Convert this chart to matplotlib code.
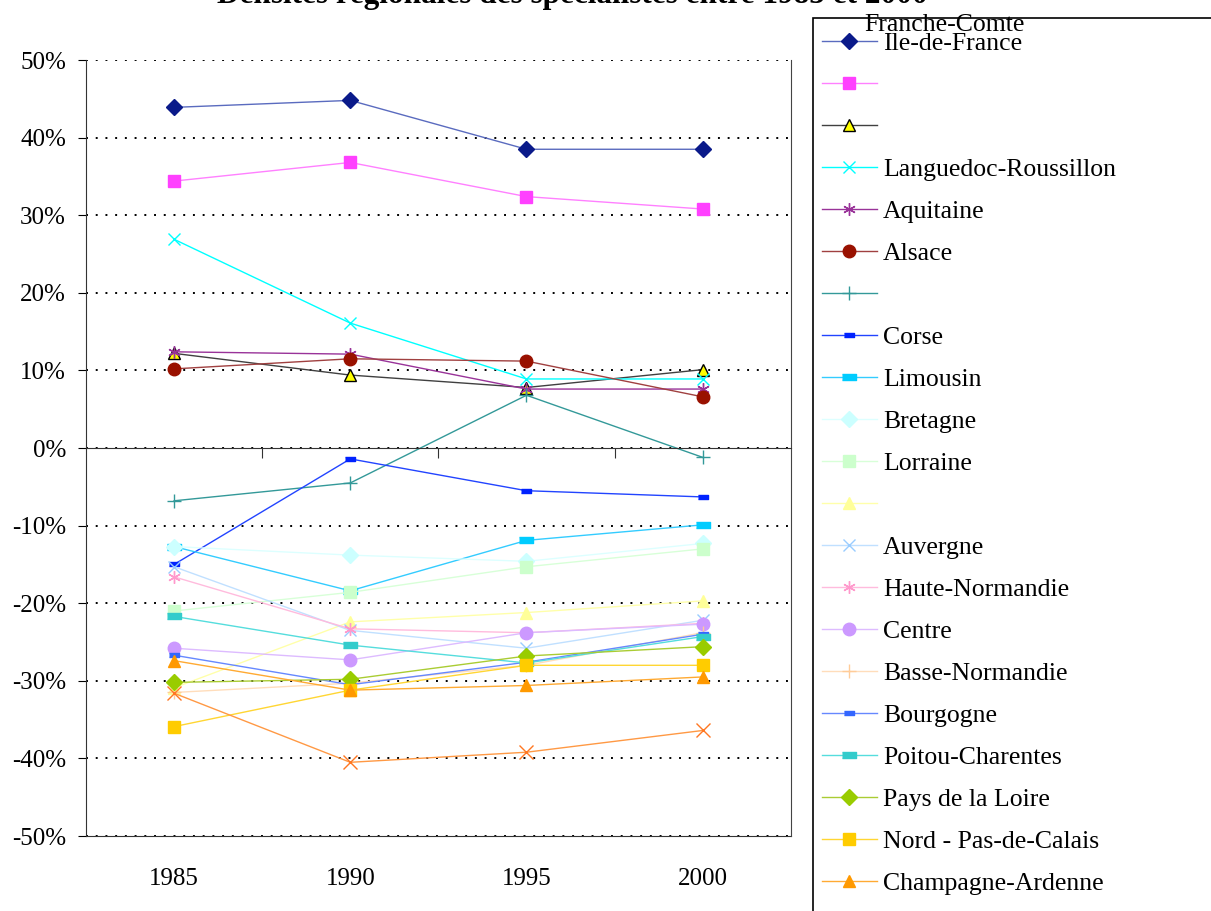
import matplotlib.pyplot as plt
from matplotlib.patches import Rectangle
from matplotlib.ticker import FuncFormatter

plt.rcParams['font.family'] = ['Liberation Serif', 'DejaVu Serif']

# years on the category axis
years = ['1985', '1990', '1995', '2000']

# values in %
ile_de_france = [43.9, 44.8, 38.5, 38.5]
paca = [34.4, 36.8, 32.4, 30.8]
midi_pyrenees = [12.2, 9.4, 7.8, 10.1]
languedoc = [26.9, 16.1, 8.9, 8.9]
aquitaine = [12.4, 12.1, 7.6, 7.6]
alsace = [10.2, 11.5, 11.2, 6.6]
rhone_alpes = [-6.8, -4.5, 6.8, -1.2]
corse = [-15.0, -1.4, -5.5, -6.3]
limousin = [-12.7, -18.4, -11.9, -9.9]
bretagne = [-12.7, -13.8, -14.6, -12.3]
lorraine = [-21.0, -18.6, -15.3, -13.0]
picardie = [-30.9, -22.4, -21.2, -19.7]
auvergne = [-15.3, -23.5, -25.8, -22.2]
haute_normandie = [-16.6, -23.3, -23.8, -22.6]
centre = [-25.8, -27.3, -23.8, -22.7]
basse_normandie = [-31.5, -30.3, -28.0, -23.8]
bourgogne = [-26.7, -30.5, -27.6, -24.0]
poitou = [-21.7, -25.4, -27.7, -24.3]
pays_loire = [-30.2, -29.8, -26.8, -25.6]
nord_pdc = [-35.9, -31.2, -28.0, -28.0]
champagne = [-27.4, -31.2, -30.6, -29.5]
franche_comte = [-31.6, -40.5, -39.2, -36.4]

# legend labels as shown (some are blank in the original)
labels = ['Ile-de-France', ' ', ' ', 'Languedoc-Roussillon', 'Aquitaine',
          'Alsace', ' ', 'Corse', 'Limousin', 'Bretagne', 'Lorraine', ' ',
          'Auvergne', 'Haute-Normandie', 'Centre', 'Basse-Normandie',
          'Bourgogne', 'Poitou-Charentes', 'Pays de la Loire',
          'Nord - Pas-de-Calais', 'Champagne-Ardenne']
series = [ile_de_france, paca, midi_pyrenees, languedoc, aquitaine, alsace,
          rhone_alpes, corse, limousin, bretagne, lorraine, picardie,
          auvergne, haute_normandie, centre, basse_normandie, bourgogne,
          poitou, pays_loire, nord_pdc, champagne]

bar = [(-1, -0.5), (1, -0.5), (1, 0.5), (-1, 0.5)]
star = (6, 2, 0)
# (line colour, marker, marker face, marker edge, marker size)
styles = [
    ('#5A6BBF', 'D', '#0A1A8A', '#0A1A8A', 8),
    ('#FF80FF', 's', '#FF40FF', '#FF40FF', 8),
    ('#404040', '^', '#FFFF00', '#000000', 9),
    ('#00FFFF', 'x', '#00FFFF', '#00FFFF', 9),
    ('#993399', star, '#993399', '#993399', 9),
    ('#A04040', 'o', '#991100', '#991100', 9),
    ('#339999', '+', '#339999', '#339999', 10),
    ('#2244FF', bar, '#0022FF', '#0022FF', 7),
    ('#33CCFF', bar, '#00CCFF', '#00CCFF', 10),
    ('#DDFFFF', 'D', '#CCFFFF', '#CCFFFF', 8),
    ('#D8FFD8', 's', '#CCFFCC', '#CCFFCC', 8),
    ('#FFFFAA', '^', '#FFFF99', '#FFFF99', 9),
    ('#C0E0FF', 'x', '#99CCFF', '#99CCFF', 9),
    ('#FFBBDD', star, '#FF99CC', '#FF99CC', 9),
    ('#DDBBFF', 'o', '#CC99FF', '#CC99FF', 9),
    ('#FFDDBB', '+', '#FFCC99', '#FFCC99', 10),
    ('#6688FF', bar, '#3366FF', '#3366FF', 7),
    ('#55DDDD', bar, '#33CCCC', '#33CCCC', 10),
    ('#AACC33', 'D', '#99CC00', '#99CC00', 8),
    ('#FFD633', 's', '#FFCC00', '#FFCC00', 8),
    ('#FFAA33', '^', '#FF9900', '#FF9900', 9),
]

fig = plt.figure(figsize=(12.11, 9.11), dpi=100)
ax = fig.add_axes([0.071, 0.0823, 0.582, 0.8518])

x = [1, 2, 3, 4]
handles = []
for vals, (lc, mk, mf, me, ms) in zip(series, styles):
    h, = ax.plot(x, vals, color=lc, lw=1, marker=mk, markerfacecolor=mf,
                 markeredgecolor=me, markersize=ms, markeredgewidth=1)
    handles.append(h)
ax.plot(x, franche_comte, color='#FF9944', lw=1, marker='x',
        markeredgecolor='#FF7722', markersize=10, markeredgewidth=1)

ax.set_xlim(0.5, 4.5)
ax.set_ylim(-50, 50)
ax.set_yticks(range(-50, 51, 10))
ax.yaxis.set_major_formatter(FuncFormatter(lambda v, p: '%d%%' % v))
ax.tick_params(axis='y', labelsize=18, length=5.8, direction='out', pad=8.5)
ax.grid(axis='y', linestyle=(0, (1, 4)), color='black', lw=1.4)
ax.set_axisbelow(True)

# category axis line crosses at 0 with marks between categories
ax.spines['bottom'].set_position(('data', 0))
ax.spines['bottom'].set_color('#333333')
ax.set_xticks([1.5, 2.5, 3.5])
ax.set_xticklabels([])
ax.tick_params(axis='x', length=7, direction='out', color='#333333')
ax.spines['top'].set_visible(False)
ax.spines['right'].set_color('#444444')
ax.spines['left'].set_color('#333333')

sec = ax.secondary_xaxis(0.0)
sec.set_xticks(x)
sec.set_xticklabels(years)
sec.tick_params(length=0, labelsize=18, pad=23)
sec.spines['bottom'].set_color('#333333')

fig.text(0.473, 0.9972, 'Densités régionales des spécialistes entre 1985 et 2000',
         ha='center', va='baseline', fontsize=22.5, fontweight='bold')

# legend
fig.patches.append(Rectangle((813 / 1211, -0.01), 0.4, 1 - 18 / 911 + 0.01,
                             transform=fig.transFigure, fill=False,
                             edgecolor='black', lw=1.2))
fig.text(864 / 1211, 1 - 31 / 911, 'Franche-Comte', fontsize=18.5,
         va='baseline', ha='left')
fig.legend(handles, labels, loc='upper left',
           bbox_to_anchor=(822 / 1211, 1 - 32 / 911), frameon=False,
           fontsize=18.5, handlelength=2.14, handletextpad=0.23,
           labelspacing=0.74, borderpad=0, borderaxespad=0)

fig.savefig('out.png', dpi=100)
